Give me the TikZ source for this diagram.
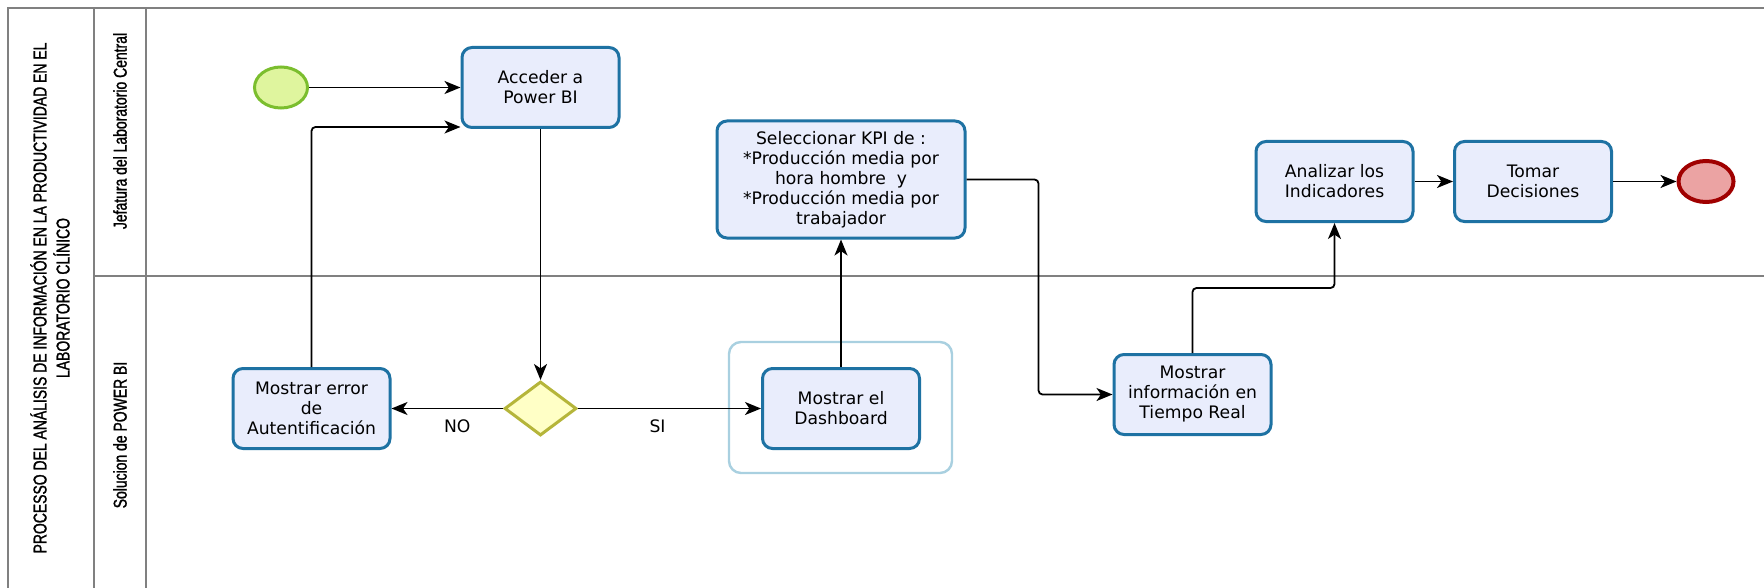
\documentclass[tikz,border=0pt]{standalone}
\usepackage{fontspec}
\usetikzlibrary{shapes.geometric,arrows.meta}
\newfontfamily\taskfont{DejaVu Sans}
\newfontfamily\narrowfont[FakeStretch=0.75, FakeBold=1.3]{Liberation Sans}
\definecolor{taskfill}{HTML}{E9EDFC}
\definecolor{taskdraw}{HTML}{1E72A3}
\definecolor{startfill}{HTML}{DFF59E}
\definecolor{startdraw}{HTML}{7BBE2E}
\definecolor{endfill}{HTML}{EBA3A3}
\definecolor{enddraw}{HTML}{A00000}
\definecolor{gwfill}{HTML}{FFFFC6}
\definecolor{gwdraw}{HTML}{B5B53A}
\definecolor{grpdraw}{HTML}{A9D0E0}
\definecolor{poolline}{HTML}{808080}
\tikzset{
  task/.style={draw=taskdraw, fill=taskfill, line width=1.5pt, rounded corners=5pt,
    minimum width=78.5pt, minimum height=40pt, inner sep=0pt, align=center,
    font=\taskfont\fontsize{8.6}{10}\selectfont},
  bigtask/.style={task, minimum width=124pt, minimum height=58.5pt},
  startev/.style={ellipse, draw=startdraw, fill=startfill, line width=1.5pt,
    minimum width=26.5pt, minimum height=20.5pt, inner sep=0pt},
  endev/.style={ellipse, draw=enddraw, fill=endfill, line width=2pt,
    minimum width=27.5pt, minimum height=20.5pt, inner sep=0pt},
  gateway/.style={diamond, draw=gwdraw, fill=gwfill, line width=1.5pt,
    minimum width=36pt, minimum height=27pt, inner sep=0pt, aspect=1.333},
  grp/.style={draw=grpdraw, line width=1.2pt, rounded corners=6pt,
    minimum width=111.5pt, minimum height=65.5pt, inner sep=0pt},
  flow/.style={draw=black, line width=0.9pt, rounded corners=2pt,
    -{Stealth[length=8pt, width=6.5pt, inset=2.2pt]}},
  pool/.style={draw=poolline, line width=1pt},
  lanelbl/.style={rotate=90, font=\narrowfont\fontsize{9.3}{11.5}\selectfont, align=center, inner sep=0pt},
  flowlbl/.style={font=\taskfont\fontsize{8.6}{10}\selectfont, inner sep=0pt}
}
\begin{document}
\begin{tikzpicture}[x=0.5pt, y=-0.5pt]
\fill[white] (0,0) rectangle (1764,588);
\useasboundingbox (0,0) rectangle (1764,588);
% pool and lanes
\draw[pool] (8,588) -- (8,8) -- (1764,8);
\draw[pool] (94,8) -- (94,588);
\draw[pool] (146,8) -- (146,588);
\draw[pool] (94,276) -- (1764,276);
\node[lanelbl] (title) at (50,298) {PROCESSO DEL ANÁLISIS DE INFORMACIÓN EN LA PRODUCTIVIDAD EN EL\\LABORATORIO CLÍNICO};
\node[lanelbl] (lane1) at (120,131) {Jefatura del Laboratorio Central};
\node[lanelbl] (lane2) at (120,435) {Solucion de POWER BI};
% group
\node[grp] (grp) at (840.5,407.5) {};
% nodes
\node[startev] (start) at (281,87.5) {};
\node[task] (acc) at (540.5,87.5) {Acceder a\\Power BI};
\node[bigtask] (sel) at (841,179.5) {Seleccionar KPI de :\\*Producción media por\\hora hombre\ \ y\\*Producción media por\\trabajador};
\node[task] (ana) at (1334.5,181.5) {Analizar los\\Indicadores};
\node[task] (tom) at (1533,181.5) {Tomar\\Decisiones};
\node[endev] (end) at (1706,181.5) {};
\node[task] (err) at (311.5,408.5) {Mostrar error\\de\\Autentificación};
\node[gateway] (dec) at (540.5,408.5) {};
\node[task] (dash) at (841,408.5) {Mostrar el\\Dashboard};
\node[task] (info) at (1192.5,394.5) {Mostrar\\información en\\Tiempo Real};
% flows
\draw[flow] (start) -- (acc);
\draw[flow] (err.north) |- ([yshift=1pt]acc.south west);
\draw[flow] (acc) -- (dec);
\draw[flow] (dec) -- node[flowlbl, pos=0.5, yshift=-9pt, xshift=5pt] (nolbl) {NO} (err);
\draw[flow] (dec) -- node[flowlbl, pos=0.5, yshift=-9pt, xshift=-6pt] (silbl) {SI} (dash);
\draw[flow] (dash) -- (sel);
\draw[flow] (sel.east) -- ++(72,0) |- (info.west);
\draw[flow] (info.north) -- ++(0,-65) -| (ana.south);
\draw[flow] (ana) -- (tom);
\draw[flow] (tom) -- (end);
\end{tikzpicture}
\end{document}
